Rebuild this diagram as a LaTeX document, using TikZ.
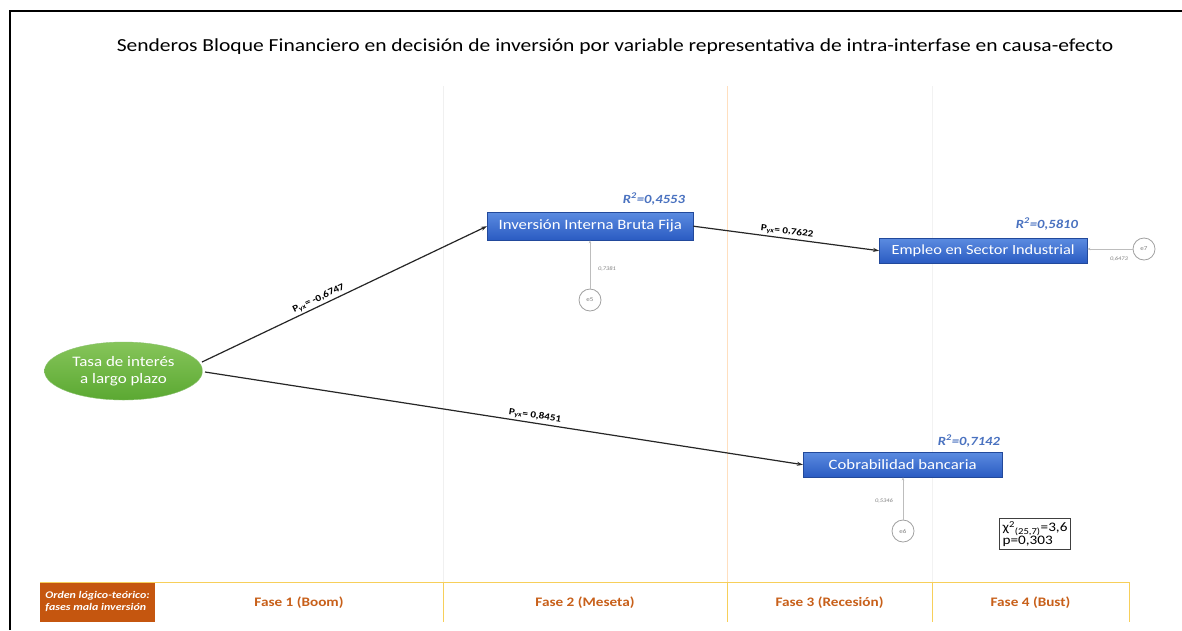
\documentclass[tikz,border=0pt]{standalone}
\usepackage{fontspec}
\setmainfont{Carlito}[FakeStretch=1.17]
\usetikzlibrary{arrows.meta,shapes.geometric}
\definecolor{boxtop}{HTML}{5B8BE0}
\definecolor{boxbot}{HTML}{2A5BC2}
\definecolor{grtop}{HTML}{86C55A}
\definecolor{grbot}{HTML}{5BA832}
\definecolor{rblue}{HTML}{4A72C0}
\definecolor{ocell}{HTML}{C5560F}
\definecolor{otext}{HTML}{C8601A}
\definecolor{gold}{HTML}{F7CF5A}
\definecolor{errg}{HTML}{A0A0A0}
\tikzset{
  var/.style={draw=boxbot!80!black, line width=0.4pt, top color=boxtop, bottom color=boxbot,
    text=white, inner sep=0pt, anchor=north west},
  vtext/.style={text=white, font=\fontsize{14.3}{16}\selectfont},
  errc/.style={circle, draw=errg, line width=0.8pt, minimum size=22pt, inner sep=0pt,
    font=\fontsize{6}{7}\selectfont, text=gray},
  errl/.style={draw=errg!70, line width=0.6pt, -{Stealth[length=3pt,width=2.5pt]}},
  path/.style={draw=black!85, line width=1.2pt, -{Stealth[length=6pt,width=4pt]}},
  plab/.style={font=\bfseries\fontsize{9.5}{11}\selectfont, sloped, above, inner sep=2pt},
  rlab/.style={font=\bfseries\itshape\fontsize{12.5}{14}\selectfont, text=rblue},
  elab/.style={font=\itshape\fontsize{5.5}{6}\selectfont, text=gray},
  phase/.style={font=\bfseries\fontsize{13}{15}\selectfont, text=otext},
  vline/.style={line width=1pt}
}
\begin{document}
\begin{tikzpicture}[x=1pt,y=-1pt]
\useasboundingbox (0,0) rectangle (1182,630);
\fill[white] (0,0) rectangle (1182,630);
% frame
\draw[line width=2.5pt] (10,630) -- (10,11) -- (1182,11);
% title
\node[font=\fontsize{18.4}{22}\selectfont] (title) at (615,47) {Senderos Bloque Financiero en decisión de inversión por variable representativa de intra-interfase en causa-efecto};
% vertical phase lines
\draw[vline, draw=black!6] (443,86) -- (443,582);
\draw[vline, draw=orange!25] (727,86) -- (727,582);
\draw[vline, draw=black!5] (932,86) -- (932,582);
% table
\fill[ocell] (40,582) rectangle (155,622);
\draw[gold, line width=1pt] (40,582) -- (1129,582);
\draw[gold, line width=1pt] (1129,582) -- (1129,622);
\draw[gold, line width=1pt] (443,582) -- (443,622);
\draw[gold, line width=1pt] (727,582) -- (727,622);
\draw[gold, line width=1pt] (932,582) -- (932,622);
\node[text=white, font=\bfseries\itshape\fontsize{10.2}{12}\selectfont, align=left] (ord) at (97.5,602) {Orden lógico-teórico:\\fases mala inversión};
\node[phase] (f1) at (299,603) {Fase 1 (Boom)};
\node[phase] (f2) at (585,603) {Fase 2 (Meseta)};
\node[phase] (f3) at (829.5,603) {Fase 3 (Recesión)};
\node[phase] (f4) at (1030.5,603) {Fase 4 (Bust)};
% nodes
\node[ellipse, top color=grtop, bottom color=grbot, draw=grbot!70!white, line width=0.4pt,
  minimum width=158pt, minimum height=58pt, text=white, align=center,
  font=\fontsize{14.5}{17}\selectfont] (tasa) at (123.5,371) {Tasa de interés\\a largo plazo};
\node[var, minimum width=206pt, minimum height=28pt] (iibf) at (487,212) {};
\node[vtext] at (iibf.center) {Inversión Interna Bruta Fija};
\node[var, minimum width=208pt, minimum height=25pt] (emp) at (879,238) {};
\node[vtext, font=\fontsize{14}{16}\selectfont] at (emp.center) {Empleo en Sector Industrial};
\node[var, minimum width=199pt, minimum height=25pt] (cob) at (803,452) {};
\node[vtext] at (cob.center) {Cobrabilidad bancaria};
% R2
\node[rlab] (r1) at (654,199) {R\textsuperscript{2}=0,4553};
\node[rlab] (r2) at (1047,224) {R\textsuperscript{2}=0,5810};
\node[rlab] (r3) at (969,441) {R\textsuperscript{2}=0,7142};
% error terms
\node[errc] (e5) at (590,300) {e5};
\node[errc] (e7) at (1144,249) {e7};
\node[errc] (e6) at (903,531) {e6};
\draw[errl] (e5) -- (iibf.south -| e5);
\draw[errl] (e7) -- (emp.east |- e7);
\draw[errl] (e6) -- (cob.south -| e6);
\node[elab] at (607,269) {0,7381};
\node[elab] at (1119,259) {0,6473};
\node[elab] at (884,501) {0,5346};
% paths
\coordinate (t1) at (202,362);
\coordinate (t2) at (205,372);
\draw[path] (t1) -- node[plab, pos=0.42] {P\textsubscript{yx}= -0,6747} (iibf.west);
\draw[path] (t2) -- node[plab, pos=0.55] {P\textsubscript{yx}= 0,8451} (cob.west);
\draw[path] (iibf.east) -- node[plab, pos=0.5] {P\textsubscript{yx}= 0,7622} (emp.west);
% chi box
\node[draw=black!75, line width=0.8pt, align=left, inner sep=3pt,
  font=\fontsize{13}{13}\selectfont] (chi) at (1035,534) {χ\textsuperscript{2}\textsubscript{(25,7)}=3,6\\p=0,303};
\end{tikzpicture}
\end{document}
